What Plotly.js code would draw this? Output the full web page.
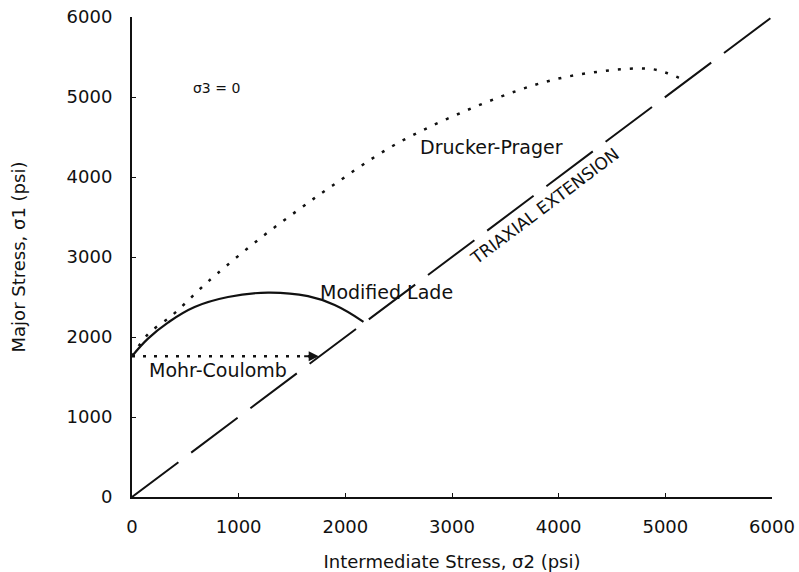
<!DOCTYPE html>
<html>
<head>
<meta charset="utf-8">
<script src="https://cdn.plot.ly/plotly-3.0.1.min.js"></script>
<style>html,body{margin:0;padding:0;background:#fff;}</style>
</head>
<body>
<div id="chart" style="width:799px;height:572px;"></div>
<script>
// Triaxial extension line (sigma1 = sigma2)
const triX = [0, 6000];
const triY = [0, 6000];
// Mohr-Coulomb
const mcX = [0, 1750];
const mcY = [1760, 1760];
// Modified Lade
const ladeX = [0, 150, 337, 587, 900, 1275, 1650, 1900, 2170];
const ladeY = [1760, 1980, 2180, 2375, 2500, 2555, 2510, 2400, 2190];
// Drucker-Prager
const dpX = [0, 150, 366, 506, 637, 797, 1200, 1574, 1884, 2500, 3449, 4077, 4826, 5014, 5190];
const dpY = [1760, 2035, 2260, 2430, 2600, 2790, 3232, 3603, 3897, 4430, 5000, 5253, 5355, 5300, 5200];
// Ticks
const tickVals = [0, 1000, 2000, 3000, 4000, 5000, 6000];
const tickText = ['0', '1000', '2000', '3000', '4000', '5000', '6000'];
// Labels
const labelText = ['σ3 = 0', 'Drucker-Prager', 'Modified Lade', 'Mohr-Coulomb', 'TRIAXIAL EXTENSION'];
const labelX = [790, 3370, 2390, 810, 3870];
const labelY = [5110, 4370, 2560, 1590, 3640];
const labelAngle = [0, 0, 0, 0, -37];
const labelSize = [14, 19, 19, 19, 17];

const F = 'DejaVu Sans, Liberation Sans, Arial, sans-serif';

const traces = [
  {x: triX, y: triY, mode: 'lines', line: {color: '#111', width: 2, dash: '58px,16px'}, hoverinfo: 'skip'},
  {x: mcX, y: mcY, mode: 'lines', line: {color: '#111', width: 2.5, dash: '3px,8px'}, hoverinfo: 'skip'},
  {x: ladeX, y: ladeY, mode: 'lines', line: {color: '#111', width: 2.2, shape: 'spline', smoothing: 1.2}, hoverinfo: 'skip'},
  {x: dpX, y: dpY, mode: 'lines', line: {color: '#111', width: 2.5, dash: '3px,9px', shape: 'spline'}, hoverinfo: 'skip'}
];

const annotations = labelText.map((t, i) => ({
  x: labelX[i], y: labelY[i], xref: 'x', yref: 'y', text: t, showarrow: false,
  textangle: labelAngle[i], font: {family: F, size: labelSize[i], color: '#111'}
}));
// arrowhead at end of Mohr-Coulomb line
const n = mcX.length - 1;
annotations.push({
  x: mcX[n], y: mcY[n], ax: mcX[n] - 150, ay: mcY[n], xref: 'x', yref: 'y', axref: 'x', ayref: 'y',
  text: '', showarrow: true, arrowhead: 2, arrowsize: 1, arrowwidth: 2, arrowcolor: '#111'
});

const layout = {
  width: 799, height: 572,
  margin: {l: 132, r: 27, t: 17, b: 75},
  paper_bgcolor: '#fff', plot_bgcolor: '#fff',
  showlegend: false,
  xaxis: {
    range: [0, 6000], tickvals: tickVals, ticktext: tickText,
    showline: true, linecolor: '#111', linewidth: 2, ticks: 'inside', ticklen: 4, tickcolor: '#111',
    showgrid: false, zeroline: false, ticklabelstandoff: 12,
    tickfont: {family: F, size: 18, color: '#111'},
    title: {text: 'Intermediate Stress, σ2 (psi)', font: {family: F, size: 18, color: '#111'}, standoff: 20}
  },
  yaxis: {
    range: [0, 6000], tickvals: tickVals, ticktext: tickText,
    showline: true, linecolor: '#111', linewidth: 2, ticks: 'inside', ticklen: 4, tickcolor: '#111',
    showgrid: false, zeroline: false, ticklabelstandoff: 14,
    tickfont: {family: F, size: 18, color: '#111'},
    title: {text: 'Major Stress, σ1 (psi)', font: {family: F, size: 18, color: '#111'}, standoff: 36}
  },
  annotations: annotations
};

Plotly.newPlot('chart', traces, layout, {staticPlot: true, displayModeBar: false});
</script>
</body>
</html>
